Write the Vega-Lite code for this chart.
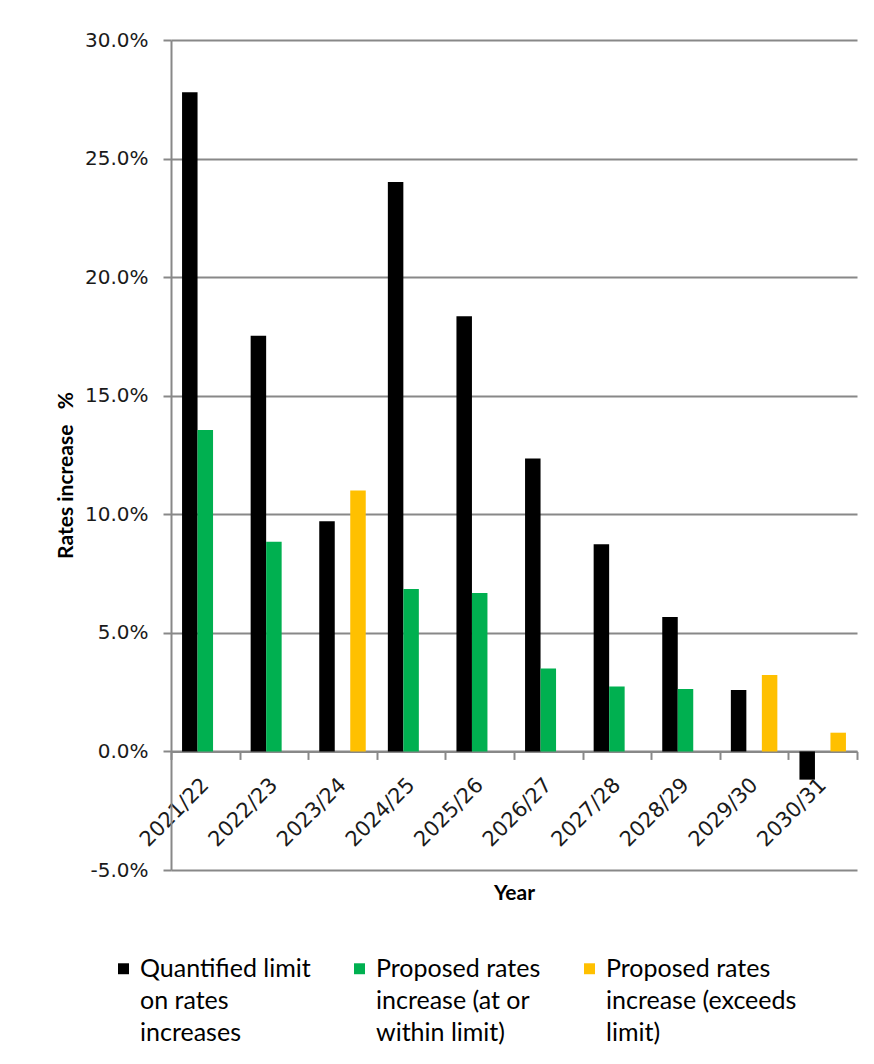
{
  "$schema": "https://vega.github.io/schema/vega-lite/v6.json",
  "width": 686,
  "height": 830,
  "autosize": {"type": "none"},
  "padding": {"left": 171, "top": 40, "right": 17, "bottom": 194},
  "background": "white",
  "data": {
    "values": [
      {"year": "2021/22", "series": "Quantified limit on rates increases", "value": 0.278},
      {"year": "2021/22", "series": "Proposed rates increase (at or within limit)", "value": 0.1355},
      {"year": "2022/23", "series": "Quantified limit on rates increases", "value": 0.1753},
      {"year": "2022/23", "series": "Proposed rates increase (at or within limit)", "value": 0.0884},
      {"year": "2023/24", "series": "Quantified limit on rates increases", "value": 0.0971},
      {"year": "2023/24", "series": "Proposed rates increase (exceeds limit)", "value": 0.110},
      {"year": "2024/25", "series": "Quantified limit on rates increases", "value": 0.2401},
      {"year": "2024/25", "series": "Proposed rates increase (at or within limit)", "value": 0.0685},
      {"year": "2025/26", "series": "Quantified limit on rates increases", "value": 0.1835},
      {"year": "2025/26", "series": "Proposed rates increase (at or within limit)", "value": 0.0668},
      {"year": "2026/27", "series": "Quantified limit on rates increases", "value": 0.1235},
      {"year": "2026/27", "series": "Proposed rates increase (at or within limit)", "value": 0.0350},
      {"year": "2027/28", "series": "Quantified limit on rates increases", "value": 0.0874},
      {"year": "2027/28", "series": "Proposed rates increase (at or within limit)", "value": 0.0274},
      {"year": "2028/29", "series": "Quantified limit on rates increases", "value": 0.0567},
      {"year": "2028/29", "series": "Proposed rates increase (at or within limit)", "value": 0.0263},
      {"year": "2029/30", "series": "Quantified limit on rates increases", "value": 0.0259},
      {"year": "2029/30", "series": "Proposed rates increase (exceeds limit)", "value": 0.0322},
      {"year": "2030/31", "series": "Quantified limit on rates increases", "value": -0.0119},
      {"year": "2030/31", "series": "Proposed rates increase (exceeds limit)", "value": 0.0079}
    ]
  },
  "mark": {"type": "bar"},
  "encoding": {
    "x": {
      "field": "year",
      "type": "nominal",
      "sort": null,
      "scale": {"paddingInner": 0, "paddingOuter": 0},
      "axis": {
        "title": "Year",
        "titleFont": "Lato",
        "titleFontSize": 21,
        "titleFontWeight": "bold",
        "titleColor": "#000000",
        "titleY": 131,
        "titleBaseline": "top",
        "offset": -118.57,
        "domainColor": "#888888",
        "domainWidth": 2,
        "tickColor": "#888888",
        "tickWidth": 2,
        "tickSize": 8,
        "tickBand": "extent",
        "labelAngle": -45,
        "labelAlign": "right",
        "labelBaseline": "middle",
        "labelPadding": 22,
        "labelFont": "DejaVu Sans",
        "labelFontSize": 21,
        "labelColor": "#1a1a1a",
        "grid": false
      }
    },
    "xOffset": {
      "field": "series",
      "type": "nominal",
      "scale": {
        "domain": [
          "Quantified limit on rates increases",
          "Proposed rates increase (at or within limit)",
          "Proposed rates increase (exceeds limit)"
        ],
        "paddingInner": 0,
        "paddingOuter": 0.713
      }
    },
    "y": {
      "field": "value",
      "type": "quantitative",
      "scale": {"domain": [-0.05, 0.3], "nice": false, "zero": false},
      "axis": {
        "values": [-0.05, 0, 0.05, 0.1, 0.15, 0.2, 0.25, 0.3],
        "format": ".1%",
        "labelExpr": "replace(datum.label, '\u2212', '-')",
        "title": "Rates increase \u00a0 %",
        "titleFont": "Lato",
        "titleFontSize": 21,
        "titleFontWeight": "bold",
        "titleColor": "#000000",
        "titlePadding": 8,
        "titleY": 435,
        "labelFont": "DejaVu Sans",
        "labelFontSize": 20,
        "labelColor": "#1a1a1a",
        "labelPadding": 15,
        "domainColor": "#888888",
        "domainWidth": 2,
        "tickColor": "#888888",
        "tickWidth": 2,
        "tickSize": 8,
        "grid": true,
        "gridColor": "#888888",
        "gridWidth": 2
      }
    },
    "color": {
      "field": "series",
      "type": "nominal",
      "scale": {
        "domain": [
          "Quantified limit on rates increases",
          "Proposed rates increase (at or within limit)",
          "Proposed rates increase (exceeds limit)"
        ],
        "range": ["#000000", "#00B050", "#FFC000"]
      },
      "legend": {
        "title": null,
        "orient": "none",
        "legendX": -60,
        "legendY": 916,
        "direction": "horizontal",
        "columns": 3,
        "columnPadding": 36,
        "symbolType": "square",
        "symbolSize": 120,
        "symbolStrokeWidth": 0,
        "labelFont": "Lato",
        "labelFontSize": 25,
        "labelColor": "#000000",
        "labelOffset": 4,
        "labelLimit": 300,
        "labelBaseline": "top",
        "labelExpr": "datum.label == 'Quantified limit on rates increases' ? ['Quantified limit', 'on rates', 'increases'] : datum.label == 'Proposed rates increase (at or within limit)' ? ['Proposed rates', 'increase (at or', 'within limit)'] : ['Proposed rates', 'increase (exceeds', 'limit)']",
        "encode": {"labels": {"update": {"lineHeight": {"value": 32}, "dy": {"value": -12}}}}
      }
    }
  },
  "config": {
    "view": {"stroke": null}
  }
}
